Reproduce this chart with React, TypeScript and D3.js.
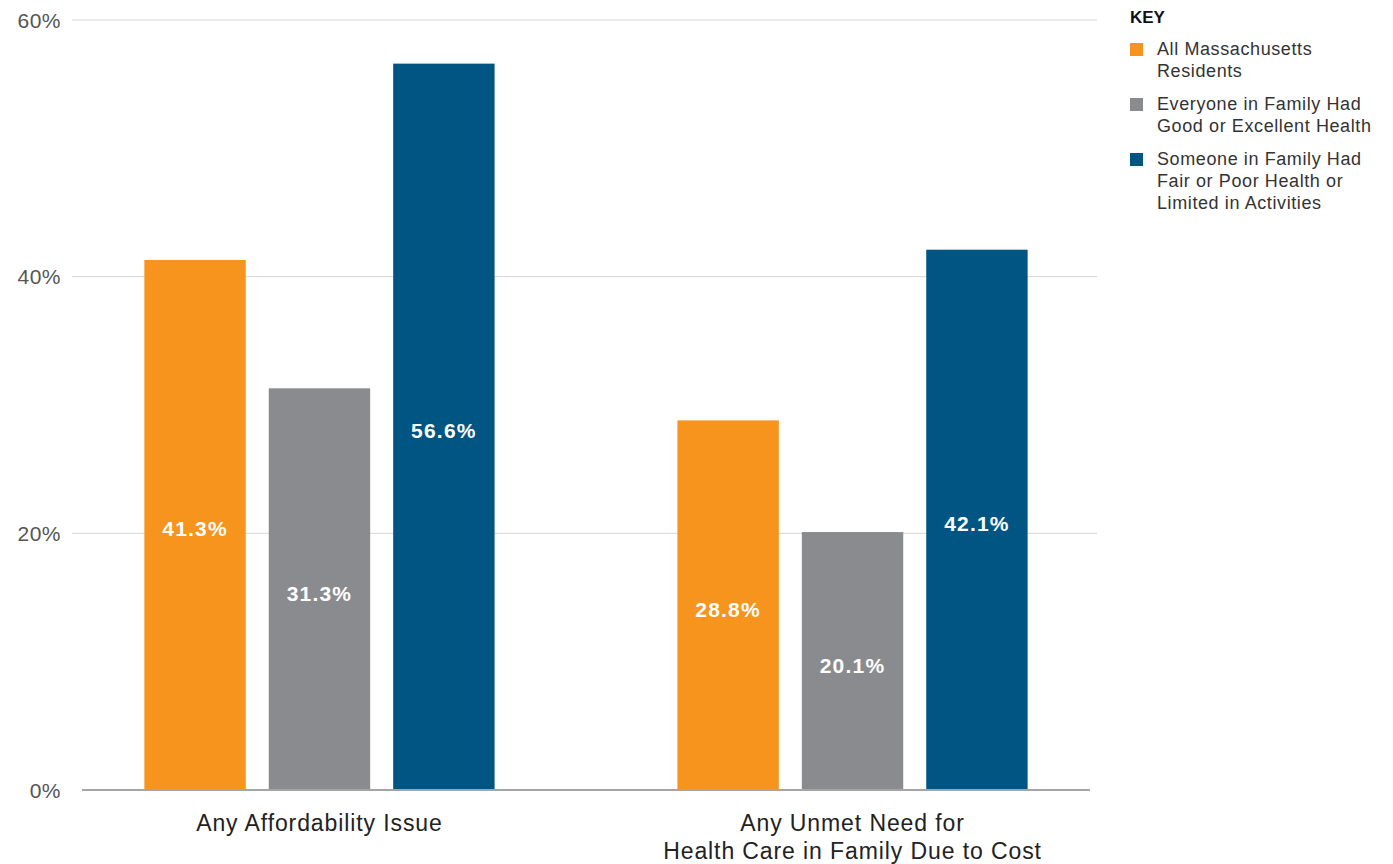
import React from "react";
import * as d3 from "d3";

const categories = ["Any Affordability Issue", "Any Unmet Need for\nHealth Care in Family Due to Cost"];
const seriesNames = [
  "All Massachusetts\nResidents",
  "Everyone in Family Had\nGood or Excellent Health",
  "Someone in Family Had\nFair or Poor Health or\nLimited in Activities",
];
const seriesColors = ["#F7941D", "#8A8B8E", "#005583"];
const allResidents = [41.3, 28.8];
const goodHealth = [31.3, 20.1];
const fairPoorHealth = [56.6, 42.1];
const yTicks = [0, 20, 40, 60];

const seriesValues = [allResidents, goodHealth, fairPoorHealth];
const FONT = "'Liberation Sans', Arial, Helvetica, sans-serif";

export default function App() {
  const width = 1393;
  const height = 864;
  const y = d3.scaleLinear().domain([0, 60]).range([790, 20]);
  const x0 = d3.scaleBand<string>().domain(categories).range([82, 1090]).paddingInner(0.343).paddingOuter(0.117);
  const x1 = d3
    .scaleBand<string>()
    .domain(seriesNames)
    .range([0, x0.bandwidth()])
    .paddingInner(0.185)
    .paddingOuter(0);

  const legendRows = [0, 55, 110];

  return (
    <svg
      width={width}
      height={height}
      style={{ position: "absolute", left: 0, top: 0, background: "#fff" }}
      fontFamily={FONT}
    >
      {/* gridlines */}
      {yTicks.filter((t) => t > 0).map((t) => (
        <line key={t} x1={72} x2={1097} y1={y(t)} y2={y(t)} stroke="#d6d6d6" strokeWidth={1} />
      ))}
      {yTicks.map((t) => (
        <text key={"l" + t} x={61} y={y(t) + 7.5} textAnchor="end" fontSize={21} letterSpacing={0.5} fill="#555">
          {t}%
        </text>
      ))}

      {/* bars */}
      {categories.map((c, ci) => (
        <g key={c} transform={`translate(${x0(c)},0)`}>
          {seriesNames.map((s, si) => {
            const v = seriesValues[si][ci];
            const top = y(v);
            const bx = x1(s)!;
            return (
              <g key={s}>
                <rect x={bx} y={top} width={x1.bandwidth()} height={y(0) - top} fill={seriesColors[si]} />
                <text
                  x={bx + x1.bandwidth() / 2}
                  y={(top + y(0)) / 2 + 11.5}
                  textAnchor="middle"
                  fontSize={21}
                  fontWeight="bold"
                  letterSpacing={1.2}
                  fill="#fff"
                >
                  {v.toFixed(1)}%
                </text>
              </g>
            );
          })}
        </g>
      ))}

      {/* baseline */}
      <line x1={82} x2={1090} y1={y(0)} y2={y(0)} stroke="#a5a5a5" strokeWidth={2} />

      {/* category labels */}
      {categories.map((c) => (
        <text
          key={"c" + c}
          x={x0(c)! + x0.bandwidth() / 2}
          y={831}
          textAnchor="middle"
          fontSize={23}
          letterSpacing={0.9}
          fill="#222"
        >
          {c.split("\n").map((line, i) => (
            <tspan key={i} x={x0(c)! + x0.bandwidth() / 2} dy={i === 0 ? 0 : 28}>
              {line}
            </tspan>
          ))}
        </text>
      ))}

      {/* legend */}
      <text x={1130} y={23} fontSize={17} fontWeight="bold" fill="#111">
        KEY
      </text>
      {seriesNames.map((s, si) => (
        <g key={"k" + s} transform={`translate(1130,${legendRows[si]})`}>
          <rect x={0} y={43} width={13} height={13} fill={seriesColors[si]} />
          {s.split("\n").map((line, i) => (
            <text key={i} x={27} y={54.5 + i * 22} fontSize={18} letterSpacing={0.6} fill="#333">
              {line}
            </text>
          ))}
        </g>
      ))}
    </svg>
  );
}
